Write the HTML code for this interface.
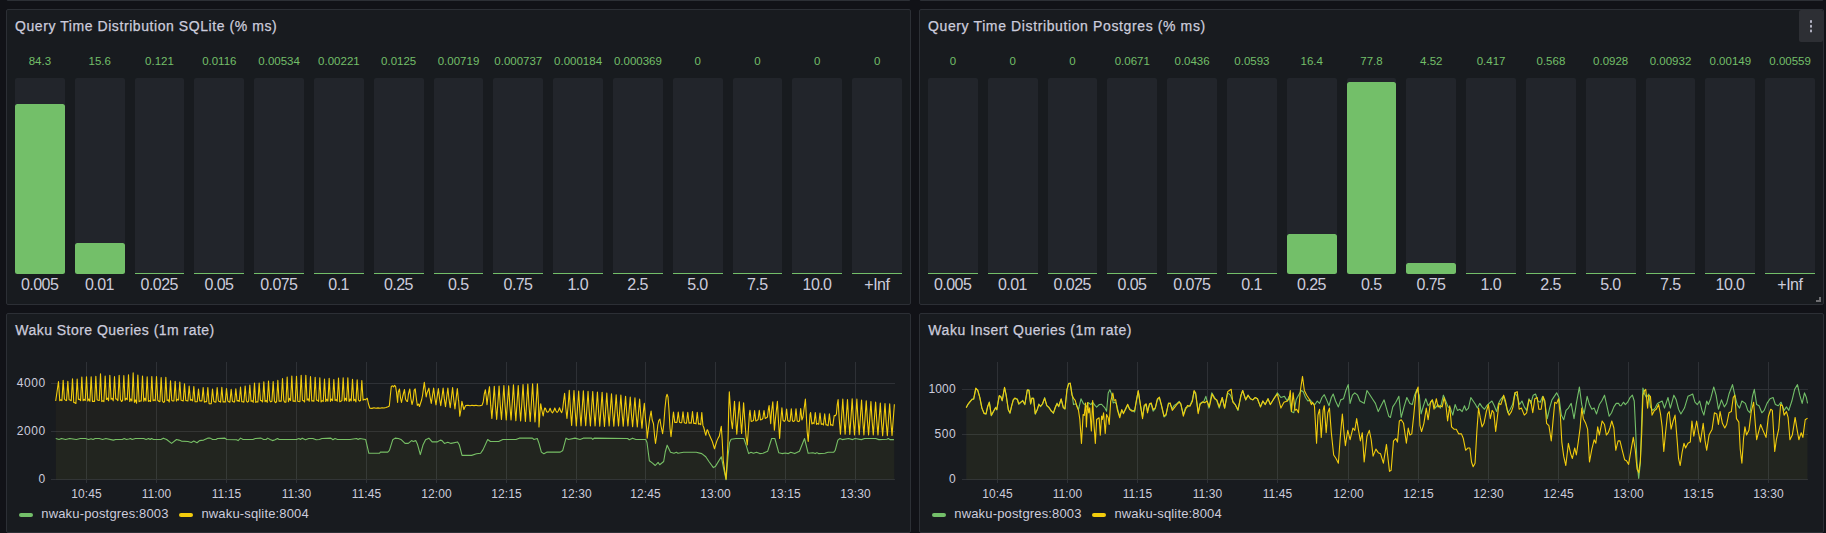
<!DOCTYPE html>
<html><head><meta charset="utf-8"><title>dashboard</title>
<style>
html,body{margin:0;padding:0;}
body{width:1826px;height:533px;overflow:hidden;background:#111217;position:relative;font-family:"Liberation Sans",sans-serif;color:#ccccdc;}
.p{position:absolute;box-sizing:border-box;background:#181b1f;border:1px solid #2c2f35;border-radius:2px;}
.t{position:absolute;font-size:14px;line-height:20px;white-space:nowrap;letter-spacing:.57px;color:#ccccdc;-webkit-text-stroke:.25px #ccccdc;}
.bv{position:absolute;top:53px;height:16px;line-height:16px;font-size:11.5px;text-align:center;color:#73bf69;white-space:nowrap;}
.bb{position:absolute;top:78px;height:196px;background:#22252b;border-radius:2px;}
.bf{position:absolute;background:#73bf69;border-radius:2.5px;}
.bz{position:absolute;top:272.5px;height:1.5px;background:#73bf69;}
.bl{position:absolute;top:275px;height:20px;line-height:20px;font-size:16px;letter-spacing:-.55px;text-indent:-.55px;text-align:center;color:#ccccdc;white-space:nowrap;}
.xt{position:absolute;top:486px;width:61px;height:16px;line-height:16px;font-size:12px;text-align:center;white-space:nowrap;letter-spacing:.1px;}
.yt{position:absolute;height:18px;line-height:18px;font-size:12px;text-align:right;white-space:nowrap;}
.lm{position:absolute;top:513px;width:14px;height:4px;border-radius:2px;}
.lt{position:absolute;top:505px;height:18px;line-height:18px;font-size:13px;letter-spacing:.16px;white-space:nowrap;}
svg{position:absolute;left:0;top:0;}
</style></head><body>
<div class="p" style="left:6px;top:-30px;width:905px;height:31px"></div>
<div class="p" style="left:919px;top:-30px;width:905px;height:31px"></div>
<div class="p" style="left:6px;top:9px;width:905px;height:296px"></div>
<div class="p" style="left:919px;top:9px;width:905px;height:296px"></div>
<div class="p" style="left:6px;top:313px;width:905px;height:220px"></div>
<div class="p" style="left:919px;top:313px;width:905px;height:220px"></div>
<div class="t" style="left:15px;top:16px">Query Time Distribution SQLite (% ms)</div>
<div class="t" style="left:928px;top:16px;letter-spacing:.62px">Query Time Distribution Postgres (% ms)</div>
<div class="t" style="left:15.3px;top:320px;letter-spacing:.47px">Waku Store Queries (1m rate)</div>
<div class="t" style="left:928.3px;top:320px;letter-spacing:.55px">Waku Insert Queries (1m rate)</div>
<div style="position:absolute;left:1799px;top:10px;width:24px;height:32px;background:#2d2f34;border-radius:2px"></div>
<div style="position:absolute;left:1809.8px;top:20px;width:2.5px;height:2.7px;background:#b4b4c4;border-radius:.8px;box-shadow:0 4.7px 0 #b4b4c4,0 9.4px 0 #b4b4c4"></div>
<div class="bv" style="left:5px;width:69.8px">84.3</div>
<div class="bb" style="left:15px;width:49.8px"></div>
<div class="bf" style="left:15px;width:49.8px;top:104px;height:170px"></div>
<div class="bl" style="left:5px;width:69.8px">0.005</div>
<div class="bv" style="left:64.8px;width:69.8px">15.6</div>
<div class="bb" style="left:74.8px;width:49.8px"></div>
<div class="bf" style="left:74.8px;width:49.8px;top:243px;height:31px"></div>
<div class="bl" style="left:64.8px;width:69.8px">0.01</div>
<div class="bv" style="left:124.6px;width:69.8px">0.121</div>
<div class="bb" style="left:134.6px;width:49.8px"></div>
<div class="bz" style="left:134.6px;width:49.8px"></div>
<div class="bl" style="left:124.6px;width:69.8px">0.025</div>
<div class="bv" style="left:184.4px;width:69.8px">0.0116</div>
<div class="bb" style="left:194.4px;width:49.8px"></div>
<div class="bz" style="left:194.4px;width:49.8px"></div>
<div class="bl" style="left:184.4px;width:69.8px">0.05</div>
<div class="bv" style="left:244.2px;width:69.8px">0.00534</div>
<div class="bb" style="left:254.2px;width:49.8px"></div>
<div class="bz" style="left:254.2px;width:49.8px"></div>
<div class="bl" style="left:244.2px;width:69.8px">0.075</div>
<div class="bv" style="left:304px;width:69.8px">0.00221</div>
<div class="bb" style="left:314px;width:49.8px"></div>
<div class="bz" style="left:314px;width:49.8px"></div>
<div class="bl" style="left:304px;width:69.8px">0.1</div>
<div class="bv" style="left:363.8px;width:69.8px">0.0125</div>
<div class="bb" style="left:373.8px;width:49.8px"></div>
<div class="bz" style="left:373.8px;width:49.8px"></div>
<div class="bl" style="left:363.8px;width:69.8px">0.25</div>
<div class="bv" style="left:423.6px;width:69.8px">0.00719</div>
<div class="bb" style="left:433.6px;width:49.8px"></div>
<div class="bz" style="left:433.6px;width:49.8px"></div>
<div class="bl" style="left:423.6px;width:69.8px">0.5</div>
<div class="bv" style="left:483.4px;width:69.8px">0.000737</div>
<div class="bb" style="left:493.4px;width:49.8px"></div>
<div class="bz" style="left:493.4px;width:49.8px"></div>
<div class="bl" style="left:483.4px;width:69.8px">0.75</div>
<div class="bv" style="left:543.2px;width:69.8px">0.000184</div>
<div class="bb" style="left:553.2px;width:49.8px"></div>
<div class="bz" style="left:553.2px;width:49.8px"></div>
<div class="bl" style="left:543.2px;width:69.8px">1.0</div>
<div class="bv" style="left:603px;width:69.8px">0.000369</div>
<div class="bb" style="left:613px;width:49.8px"></div>
<div class="bz" style="left:613px;width:49.8px"></div>
<div class="bl" style="left:603px;width:69.8px">2.5</div>
<div class="bv" style="left:662.8px;width:69.8px">0</div>
<div class="bb" style="left:672.8px;width:49.8px"></div>
<div class="bz" style="left:672.8px;width:49.8px"></div>
<div class="bl" style="left:662.8px;width:69.8px">5.0</div>
<div class="bv" style="left:722.6px;width:69.8px">0</div>
<div class="bb" style="left:732.6px;width:49.8px"></div>
<div class="bz" style="left:732.6px;width:49.8px"></div>
<div class="bl" style="left:722.6px;width:69.8px">7.5</div>
<div class="bv" style="left:782.4px;width:69.8px">0</div>
<div class="bb" style="left:792.4px;width:49.8px"></div>
<div class="bz" style="left:792.4px;width:49.8px"></div>
<div class="bl" style="left:782.4px;width:69.8px">10.0</div>
<div class="bv" style="left:842.2px;width:69.8px">0</div>
<div class="bb" style="left:852.2px;width:49.8px"></div>
<div class="bz" style="left:852.2px;width:49.8px"></div>
<div class="bl" style="left:842.2px;width:69.8px">+Inf</div>
<div class="bv" style="left:918px;width:69.8px">0</div>
<div class="bb" style="left:928px;width:49.8px"></div>
<div class="bz" style="left:928px;width:49.8px"></div>
<div class="bl" style="left:918px;width:69.8px">0.005</div>
<div class="bv" style="left:977.8px;width:69.8px">0</div>
<div class="bb" style="left:987.8px;width:49.8px"></div>
<div class="bz" style="left:987.8px;width:49.8px"></div>
<div class="bl" style="left:977.8px;width:69.8px">0.01</div>
<div class="bv" style="left:1037.6px;width:69.8px">0</div>
<div class="bb" style="left:1047.6px;width:49.8px"></div>
<div class="bz" style="left:1047.6px;width:49.8px"></div>
<div class="bl" style="left:1037.6px;width:69.8px">0.025</div>
<div class="bv" style="left:1097.4px;width:69.8px">0.0671</div>
<div class="bb" style="left:1107.4px;width:49.8px"></div>
<div class="bz" style="left:1107.4px;width:49.8px"></div>
<div class="bl" style="left:1097.4px;width:69.8px">0.05</div>
<div class="bv" style="left:1157.2px;width:69.8px">0.0436</div>
<div class="bb" style="left:1167.2px;width:49.8px"></div>
<div class="bz" style="left:1167.2px;width:49.8px"></div>
<div class="bl" style="left:1157.2px;width:69.8px">0.075</div>
<div class="bv" style="left:1217px;width:69.8px">0.0593</div>
<div class="bb" style="left:1227px;width:49.8px"></div>
<div class="bz" style="left:1227px;width:49.8px"></div>
<div class="bl" style="left:1217px;width:69.8px">0.1</div>
<div class="bv" style="left:1276.8px;width:69.8px">16.4</div>
<div class="bb" style="left:1286.8px;width:49.8px"></div>
<div class="bf" style="left:1286.8px;width:49.8px;top:234px;height:40px"></div>
<div class="bl" style="left:1276.8px;width:69.8px">0.25</div>
<div class="bv" style="left:1336.6px;width:69.8px">77.8</div>
<div class="bb" style="left:1346.6px;width:49.8px"></div>
<div class="bf" style="left:1346.6px;width:49.8px;top:82px;height:192px"></div>
<div class="bl" style="left:1336.6px;width:69.8px">0.5</div>
<div class="bv" style="left:1396.4px;width:69.8px">4.52</div>
<div class="bb" style="left:1406.4px;width:49.8px"></div>
<div class="bf" style="left:1406.4px;width:49.8px;top:263px;height:11px"></div>
<div class="bl" style="left:1396.4px;width:69.8px">0.75</div>
<div class="bv" style="left:1456.2px;width:69.8px">0.417</div>
<div class="bb" style="left:1466.2px;width:49.8px"></div>
<div class="bz" style="left:1466.2px;width:49.8px"></div>
<div class="bl" style="left:1456.2px;width:69.8px">1.0</div>
<div class="bv" style="left:1516px;width:69.8px">0.568</div>
<div class="bb" style="left:1526px;width:49.8px"></div>
<div class="bz" style="left:1526px;width:49.8px"></div>
<div class="bl" style="left:1516px;width:69.8px">2.5</div>
<div class="bv" style="left:1575.8px;width:69.8px">0.0928</div>
<div class="bb" style="left:1585.8px;width:49.8px"></div>
<div class="bz" style="left:1585.8px;width:49.8px"></div>
<div class="bl" style="left:1575.8px;width:69.8px">5.0</div>
<div class="bv" style="left:1635.6px;width:69.8px">0.00932</div>
<div class="bb" style="left:1645.6px;width:49.8px"></div>
<div class="bz" style="left:1645.6px;width:49.8px"></div>
<div class="bl" style="left:1635.6px;width:69.8px">7.5</div>
<div class="bv" style="left:1695.4px;width:69.8px">0.00149</div>
<div class="bb" style="left:1705.4px;width:49.8px"></div>
<div class="bz" style="left:1705.4px;width:49.8px"></div>
<div class="bl" style="left:1695.4px;width:69.8px">10.0</div>
<div class="bv" style="left:1755.2px;width:69.8px">0.00559</div>
<div class="bb" style="left:1765.2px;width:49.8px"></div>
<div class="bz" style="left:1765.2px;width:49.8px"></div>
<div class="bl" style="left:1755.2px;width:69.8px">+Inf</div>
<svg width="1826" height="533" viewBox="0 0 1826 533">
<rect x="86" y="362" width="1" height="121" fill="#2e3136"/><rect x="156" y="362" width="1" height="121" fill="#2e3136"/><rect x="226" y="362" width="1" height="121" fill="#2e3136"/><rect x="296" y="362" width="1" height="121" fill="#2e3136"/><rect x="366" y="362" width="1" height="121" fill="#2e3136"/><rect x="436" y="362" width="1" height="121" fill="#2e3136"/><rect x="506" y="362" width="1" height="121" fill="#2e3136"/><rect x="576" y="362" width="1" height="121" fill="#2e3136"/><rect x="645" y="362" width="1" height="121" fill="#2e3136"/><rect x="715" y="362" width="1" height="121" fill="#2e3136"/><rect x="785" y="362" width="1" height="121" fill="#2e3136"/><rect x="855" y="362" width="1" height="121" fill="#2e3136"/><rect x="51" y="383" width="844" height="1" fill="#2e3136"/><rect x="51" y="431" width="844" height="1" fill="#2e3136"/><rect x="51" y="479" width="844" height="1" fill="#2e3136"/><rect x="997" y="362" width="1" height="121" fill="#2e3136"/><rect x="1067" y="362" width="1" height="121" fill="#2e3136"/><rect x="1137" y="362" width="1" height="121" fill="#2e3136"/><rect x="1207" y="362" width="1" height="121" fill="#2e3136"/><rect x="1277" y="362" width="1" height="121" fill="#2e3136"/><rect x="1348" y="362" width="1" height="121" fill="#2e3136"/><rect x="1418" y="362" width="1" height="121" fill="#2e3136"/><rect x="1488" y="362" width="1" height="121" fill="#2e3136"/><rect x="1558" y="362" width="1" height="121" fill="#2e3136"/><rect x="1628" y="362" width="1" height="121" fill="#2e3136"/><rect x="1698" y="362" width="1" height="121" fill="#2e3136"/><rect x="1768" y="362" width="1" height="121" fill="#2e3136"/><rect x="962" y="389" width="846" height="1" fill="#2e3136"/><rect x="962" y="434" width="846" height="1" fill="#2e3136"/><rect x="962" y="479" width="846" height="1" fill="#2e3136"/><path d="M55.75,438.47 L59.04,439.46 L61.5,438.47 L65.61,439.46 L69.71,438.47 L76.29,439.46 L80.39,438.47 L85.32,438.47 L88.61,439.46 L91.07,438.8 L93.04,439.46 L95.18,438.47 L99.29,438.47 L102.57,439.46 L105.86,438.47 L113.25,440.11 L115.71,439.46 L122.29,439.46 L124.26,438.47 L126.39,439.46 L128.86,438.96 L130.5,438.47 L132.14,439.46 L135.43,438.47 L143.64,438.47 L146.11,439.46 L148.57,438.47 L150.21,439.46 L151.53,438.47 L153.5,439.46 L160.89,439.46 L163.36,438.14 L166.64,439.46 L171.57,443.4 L176.5,439.46 L178.96,440.11 L181.43,441.1 L188,441.43 L191.28,442.41 L193.75,441.1 L197.03,442.74 L199.5,440.61 L203.61,440.11 L207.71,438.14 L210.18,438.14 L212.64,439.46 L215.93,439.46 L217.57,438.47 L224.96,438.14 L226.61,439.46 L236.46,439.79 L238.11,440.61 L240.57,438.14 L243.03,439.46 L252.89,439.46 L255.36,438.47 L261.11,438.14 L263.57,439.46 L266.03,439.46 L267.68,438.14 L270.14,439.46 L272.61,440.61 L275.07,439.79 L277.53,438.47 L279.18,439.46 L296.43,439.46 L298.89,438.47 L300.53,439.46 L302.18,438.14 L305.46,439.79 L308.75,438.47 L312.86,438.47 L316.14,439.79 L319.43,439.46 L321.89,438.47 L330.93,438.14 L332.9,439.79 L335.03,438.47 L337.5,439.46 L349.98,439.46 L356.57,438.47 L358.21,439.46 L359.86,438.47 L365.61,439.46 L368.89,453.26 L379.57,453.26 L380.39,452.11 L387.79,452.11 L389.43,450.46 L392.71,439.79 L395.18,438.14 L398.46,438.47 L400.93,439.46 L405.04,443.4 L408.32,443.4 L411.61,440.61 L413.25,441.43 L415.71,440.61 L417.36,443.89 L420.31,454.57 L423.11,444.71 L425.57,439.79 L428.86,438.14 L432.14,441.92 L437.07,441.92 L440.36,440.11 L442,440.61 L444.46,443.4 L447.75,442.25 L451.03,443.4 L457.61,441.92 L459.25,444.71 L462.04,455.39 L471.57,455.39 L476.5,453.75 L480.61,453.26 L483.07,449.64 L487.67,439.46 L490.46,441.43 L498.68,441.43 L502.78,439.46 L515.93,439.46 L519.21,438.14 L532.36,438.14 L534,439.46 L537.28,438.47 L538.93,443.07 L541.39,452.11 L543.86,453.75 L547.14,452.11 L560.28,452.11 L562.75,450.46 L566.03,438.14 L568.5,439.46 L575.07,438.14 L580,439.46 L583.28,438.14 L591.5,438.14 L592.81,439.46 L594.13,438.14 L627.64,438.47 L629.28,439.79 L632.57,438.14 L635.86,439.46 L645.71,439.46 L647,442.47 L649.38,460.73 L652.56,463.11 L655.25,465.5 L658.11,462.32 L659.7,464.7 L663.67,461.53 L665.26,452 L667.17,445.17 L670.5,452.31 L673.99,453.27 L676.38,452.31 L677.96,453.27 L683.52,452.31 L696.23,452.31 L701.78,453.59 L705.76,456.76 L708.93,461.53 L713.38,467.56 L715.28,466.61 L721.32,456.76 L723.22,466.29 L726.08,479.79 L727.99,456.76 L729.58,442.47 L731.16,439.29 L735.93,438.5 L743.87,438.5 L746.25,445.64 L748.63,453.59 L751.01,452.31 L753.4,453.27 L756.57,452.31 L759.75,453.59 L762.93,453.27 L767.69,451.2 L771.66,438.5 L774.84,438.5 L778.81,452.79 L781.98,453.59 L785.16,452.95 L788.33,453.59 L790.72,452.31 L794.69,453.59 L799.45,451.2 L804.53,438.5 L808.18,453.27 L812.95,452.79 L815.33,453.59 L816.92,452.63 L818.51,453.59 L824.86,453.27 L828.04,452.31 L833.59,452.31 L835.18,450.41 L837.88,440.09 L839.95,438.5 L842.33,439.61 L848.68,438.5 L852.65,439.61 L855.03,438.5 L861.38,439.61 L864.56,438.5 L875.68,438.5 L878.85,439.61 L886.79,439.29 L888.38,438.5 L889.97,439.61 L893.94,439.61 L893.94,479.5 L55.75,479.5 Z" fill="#73bf69" fill-opacity="0.035" stroke="none"/><path d="M55.75,438.47 L59.04,439.46 L61.5,438.47 L65.61,439.46 L69.71,438.47 L76.29,439.46 L80.39,438.47 L85.32,438.47 L88.61,439.46 L91.07,438.8 L93.04,439.46 L95.18,438.47 L99.29,438.47 L102.57,439.46 L105.86,438.47 L113.25,440.11 L115.71,439.46 L122.29,439.46 L124.26,438.47 L126.39,439.46 L128.86,438.96 L130.5,438.47 L132.14,439.46 L135.43,438.47 L143.64,438.47 L146.11,439.46 L148.57,438.47 L150.21,439.46 L151.53,438.47 L153.5,439.46 L160.89,439.46 L163.36,438.14 L166.64,439.46 L171.57,443.4 L176.5,439.46 L178.96,440.11 L181.43,441.1 L188,441.43 L191.28,442.41 L193.75,441.1 L197.03,442.74 L199.5,440.61 L203.61,440.11 L207.71,438.14 L210.18,438.14 L212.64,439.46 L215.93,439.46 L217.57,438.47 L224.96,438.14 L226.61,439.46 L236.46,439.79 L238.11,440.61 L240.57,438.14 L243.03,439.46 L252.89,439.46 L255.36,438.47 L261.11,438.14 L263.57,439.46 L266.03,439.46 L267.68,438.14 L270.14,439.46 L272.61,440.61 L275.07,439.79 L277.53,438.47 L279.18,439.46 L296.43,439.46 L298.89,438.47 L300.53,439.46 L302.18,438.14 L305.46,439.79 L308.75,438.47 L312.86,438.47 L316.14,439.79 L319.43,439.46 L321.89,438.47 L330.93,438.14 L332.9,439.79 L335.03,438.47 L337.5,439.46 L349.98,439.46 L356.57,438.47 L358.21,439.46 L359.86,438.47 L365.61,439.46 L368.89,453.26 L379.57,453.26 L380.39,452.11 L387.79,452.11 L389.43,450.46 L392.71,439.79 L395.18,438.14 L398.46,438.47 L400.93,439.46 L405.04,443.4 L408.32,443.4 L411.61,440.61 L413.25,441.43 L415.71,440.61 L417.36,443.89 L420.31,454.57 L423.11,444.71 L425.57,439.79 L428.86,438.14 L432.14,441.92 L437.07,441.92 L440.36,440.11 L442,440.61 L444.46,443.4 L447.75,442.25 L451.03,443.4 L457.61,441.92 L459.25,444.71 L462.04,455.39 L471.57,455.39 L476.5,453.75 L480.61,453.26 L483.07,449.64 L487.67,439.46 L490.46,441.43 L498.68,441.43 L502.78,439.46 L515.93,439.46 L519.21,438.14 L532.36,438.14 L534,439.46 L537.28,438.47 L538.93,443.07 L541.39,452.11 L543.86,453.75 L547.14,452.11 L560.28,452.11 L562.75,450.46 L566.03,438.14 L568.5,439.46 L575.07,438.14 L580,439.46 L583.28,438.14 L591.5,438.14 L592.81,439.46 L594.13,438.14 L627.64,438.47 L629.28,439.79 L632.57,438.14 L635.86,439.46 L645.71,439.46 L647,442.47 L649.38,460.73 L652.56,463.11 L655.25,465.5 L658.11,462.32 L659.7,464.7 L663.67,461.53 L665.26,452 L667.17,445.17 L670.5,452.31 L673.99,453.27 L676.38,452.31 L677.96,453.27 L683.52,452.31 L696.23,452.31 L701.78,453.59 L705.76,456.76 L708.93,461.53 L713.38,467.56 L715.28,466.61 L721.32,456.76 L723.22,466.29 L726.08,479.79 L727.99,456.76 L729.58,442.47 L731.16,439.29 L735.93,438.5 L743.87,438.5 L746.25,445.64 L748.63,453.59 L751.01,452.31 L753.4,453.27 L756.57,452.31 L759.75,453.59 L762.93,453.27 L767.69,451.2 L771.66,438.5 L774.84,438.5 L778.81,452.79 L781.98,453.59 L785.16,452.95 L788.33,453.59 L790.72,452.31 L794.69,453.59 L799.45,451.2 L804.53,438.5 L808.18,453.27 L812.95,452.79 L815.33,453.59 L816.92,452.63 L818.51,453.59 L824.86,453.27 L828.04,452.31 L833.59,452.31 L835.18,450.41 L837.88,440.09 L839.95,438.5 L842.33,439.61 L848.68,438.5 L852.65,439.61 L855.03,438.5 L861.38,439.61 L864.56,438.5 L875.68,438.5 L878.85,439.61 L886.79,439.29 L888.38,438.5 L889.97,439.61 L893.94,439.61" fill="none" stroke="#73bf69" stroke-width="1.1" stroke-linejoin="round"/><path d="M55.7,401 L58.5,381.5 L59.76,400.68 L60.83,399.73 L61.91,400.67 L63.17,380.34 L64.43,399.18 L65.5,400.15 L66.57,400.61 L67.83,381.18 L69.09,399.75 L70.17,400.09 L71.24,400.67 L72.5,378.88 L73.76,402.36 L74.83,402.71 L75.91,403.45 L77.17,379.04 L78.43,399.34 L79.5,399.19 L80.57,400.61 L81.83,377.04 L83.09,400.66 L84.17,399.34 L85.24,400.52 L86.5,376.75 L87.76,400.86 L88.83,399.04 L89.91,401.18 L91.17,376.74 L92.43,401.52 L93.5,401.29 L94.57,401.44 L95.83,376.39 L97.09,399.69 L98.17,400.2 L99.24,400.49 L100.5,373.9 L101.76,401.47 L102.83,400.82 L103.91,401.59 L105.17,375.95 L106.43,399.57 L107.5,398.2 L108.57,400.74 L109.83,375.34 L111.09,399.19 L112.17,398.4 L113.24,400.84 L114.5,376.66 L115.76,399.04 L116.83,399.11 L117.91,400.66 L119.17,375.38 L120.43,399.18 L121.5,401.47 L122.57,400.53 L123.83,375.67 L125.09,400.33 L126.17,398.34 L127.24,399.74 L128.5,374.76 L129.76,401.49 L130.83,398.91 L131.91,401.08 L133.17,372.9 L134.43,402.33 L135.5,399.89 L136.57,403.21 L137.83,375.02 L139.09,401.6 L140.17,400.94 L141.24,401.03 L142.5,376.09 L143.76,401.25 L144.83,398.29 L145.91,400.88 L147.17,376.92 L148.43,401.35 L149.5,400.67 L150.57,401.52 L151.83,376.55 L153.09,400.71 L154.17,399.92 L155.24,400.7 L156.5,376.5 L157.76,400.27 L158.83,401.27 L159.91,401.66 L161.17,377.55 L162.43,401.01 L163.5,402.33 L164.57,401.75 L165.83,377.22 L167.09,400.52 L168.17,399.85 L169.24,401.96 L170.5,380.73 L171.76,400.48 L172.83,400.88 L173.91,401.02 L175.17,381.25 L176.43,401.09 L177.5,399.32 L178.57,400.06 L179.83,381.96 L181.09,400.3 L182.17,400.58 L183.24,401.03 L184.5,383.71 L185.76,400.4 L186.83,400.71 L187.91,401.05 L189.17,385.93 L190.43,400.31 L191.5,399.61 L192.57,400.9 L193.83,386.56 L195.09,401.74 L196.17,401.7 L197.24,401.71 L198.5,389.09 L199.76,401.05 L200.83,400.87 L201.91,400.83 L203.17,387.66 L204.43,402.11 L205.5,401.66 L206.57,401.78 L207.83,387.57 L209.09,403.74 L210.17,403.83 L211.24,403.59 L212.5,388.97 L213.76,401.22 L214.83,402 L215.91,402.12 L217.17,387.57 L218.43,401.05 L219.5,401.53 L220.57,402.12 L221.83,387.34 L223.09,402.06 L224.17,401.73 L225.24,402.09 L226.5,388.59 L227.76,400.87 L228.83,401.82 L229.91,402.12 L231.17,389.19 L232.43,401.36 L233.5,401.88 L234.57,401.93 L235.83,388.77 L237.09,401.06 L238.17,400.5 L239.24,401.53 L240.5,386.99 L241.76,401.68 L242.83,401.71 L243.91,402.13 L245.17,385.95 L246.43,400.94 L247.5,402.16 L248.57,401.38 L249.83,385.14 L251.09,401.33 L252.17,400.69 L253.24,402.31 L254.5,382.98 L255.76,402.36 L256.83,401.87 L257.91,401.91 L259.17,383.12 L260.43,400.5 L261.5,400.66 L262.57,401.91 L263.83,381.85 L265.09,401.75 L266.17,400.46 L267.24,402.31 L268.5,380.97 L269.76,400.61 L270.83,401.85 L271.91,401.35 L273.17,381.5 L274.43,400.88 L275.5,402.6 L276.57,401.82 L277.83,380.42 L279.09,401.19 L280.17,400.96 L281.24,401.09 L282.5,378.58 L283.76,400.35 L284.83,402.18 L285.91,402.11 L287.17,377 L288.43,401.61 L289.5,398.39 L290.57,400.51 L291.83,376.11 L293.09,401.32 L294.17,401 L295.24,401.6 L296.5,376.34 L297.76,401.27 L298.83,401.51 L299.91,401.69 L301.17,375.21 L302.43,400.19 L303.5,400.69 L304.57,401.99 L305.83,375.31 L307.09,400.26 L308.17,398.95 L309.24,401.26 L310.5,376.43 L311.76,400.97 L312.83,400.74 L313.91,401.31 L315.17,377.19 L316.43,400.09 L317.5,400.21 L318.57,401.44 L319.83,377.9 L321.09,401.87 L322.17,400.61 L323.24,401.43 L324.5,379.03 L325.76,401.38 L326.83,399.33 L327.91,401.14 L329.17,378.31 L330.43,401.39 L331.5,399.02 L332.57,400.75 L333.83,379.5 L335.09,400.48 L336.17,399.67 L337.24,401.22 L338.5,378.01 L339.76,401.69 L340.83,401.22 L341.91,400.6 L343.17,377.83 L344.43,400.88 L345.5,398.24 L346.57,400.86 L347.83,377.71 L349.09,401.57 L350.17,399.01 L351.24,400.88 L352.5,379.4 L353.76,400.62 L354.83,399.41 L355.91,401.87 L357.17,379.76 L358.43,399.84 L359.5,401.07 L360.57,400.42 L361.83,380.55 L363.09,400.19 L364.17,399.25 L365.24,399.84 L366.2,399 L367.3,398.3 L368.5,404 L369.8,408.2 L372,408.4 L374,407.8 L376,408.3 L378,407.9 L380,408.2 L382,407.8 L384,408 L386,407.5 L388,406.8 L389.3,406 L390.2,397 L391.3,386.5 L392.5,385.8 L393.6,386.8 L394.5,385.4 L395.6,386.5 L396.6,393 L397.6,402.5 L398.3,392 L399.5,389 L400.5,398 L401.5,402.5 L402.8,396 L404.5,389.5 L405.5,399 L406.5,401 L407.5,401.5 L408.5,394 L409.8,389 L410.8,398 L412,404.5 L413.2,400 L414.2,390 L415.2,388.9 L416.3,398 L417.3,405.5 L418.5,404 L419.5,406.5 L420.6,403 L421.6,400 L422.6,395 L423.5,388 L424.3,382.3 L425.3,390 L426.2,397 L427,393 L428.9,388.18 L430.08,397.05 L431.27,403.48 L432.45,395.83 L433.64,388.11 L434.82,397.8 L436.01,404.82 L437.19,396.46 L438.38,388.63 L439.56,398.52 L440.75,405.69 L441.94,397.16 L443.12,388.09 L444.31,398.89 L445.49,406.72 L446.68,397.4 L447.86,387.99 L449.04,399.45 L450.23,407.76 L451.41,397.87 L452.6,387.59 L453.78,399.92 L454.97,408.84 L456.15,398.22 L457.34,388.58 L458.52,400.68 L458.6,400 L459.8,416.1 L460.9,410 L461.9,401.3 L463,406 L463.9,409.5 L465,407 L465.6,405.6 L468,405.2 L470,405.8 L472,405.3 L474,405.6 L476,405.2 L478,405.8 L480,405.6 L482,405.2 L483.2,402 L484.3,394 L485.4,389.7 L486.3,397 L487,404.6 L488,396 L489.5,386.67 L490.7,405.17 L491.89,418.56 L493.09,402.62 L494.29,386.36 L495.49,405.48 L496.69,419.33 L497.88,402.85 L499.08,386.1 L500.28,405.47 L501.47,419.5 L502.67,402.8 L503.87,385.64 L505.07,405.52 L506.26,419.93 L507.46,402.78 L508.66,385.89 L509.86,405.62 L511.06,419.91 L512.25,402.9 L513.45,384.69 L514.65,405.57 L515.85,420.68 L517.04,402.69 L518.24,385.44 L519.44,405.98 L520.63,420.85 L521.83,403.15 L523.03,384.63 L524.23,405.92 L525.42,421.34 L526.62,402.98 L527.82,384.08 L529.02,405.7 L530.22,421.35 L531.41,402.72 L532.61,383.86 L533.81,405.93 L535,421.92 L536.2,402.89 L537.4,383.78 L538.6,405.83 L539,426.9 L540,412 L540.7,403.7 L541.8,410 L543.2,416 L544,411 L544.8,408 L545.5,408.5 L546.7,411.8 L547.8,412.3 L549,411 L550.1,408.2 L551.3,411.5 L552.4,412.8 L553.6,411.2 L554.8,408 L556,411 L557.1,412.5 L558.3,411 L559.5,407.8 L560.6,411 L561.7,412.6 L562.7,409 L563.6,401 L564.6,393.23 L565.77,407.83 L566.95,418.41 L568.12,405.82 L569.29,390.28 L570.46,410.64 L571.64,425.38 L572.81,407.83 L573.98,390.64 L575.15,411.08 L576.33,425.87 L577.5,408.26 L578.67,391.07 L579.84,411.23 L581.02,425.83 L582.19,408.45 L583.36,390.85 L584.53,411.04 L585.71,425.66 L586.88,408.26 L588.05,391.41 L589.22,411.42 L590.4,425.92 L591.57,408.66 L592.74,391.45 L593.91,411.43 L595.09,425.9 L596.26,408.67 L597.43,392.04 L598.6,411.85 L599.78,426.2 L600.95,409.12 L602.12,392.24 L603.29,412.03 L604.47,426.35 L605.64,409.3 L606.81,393.1 L607.98,412.22 L609.16,426.07 L610.33,409.59 L611.5,393.74 L612.67,412.59 L613.85,426.24 L615.02,409.99 L616.19,394.81 L617.36,412.92 L618.54,426.04 L619.71,410.42 L620.88,395.05 L622.05,413.09 L623.23,426.16 L624.4,410.6 L625.57,396.28 L626.74,413.47 L627.92,425.93 L629.09,411.1 L630.26,397.17 L631.43,414.32 L632.61,426.75 L633.78,411.96 L634.95,397.89 L636.12,414.76 L637.3,426.98 L638.47,412.43 L639.64,399.13 L640.81,415.93 L641.99,428.09 L643.16,413.61 L644.33,403.41 L645.5,418.21 L646.68,428.93 L647.2,438.3 L648.5,428 L649.8,418 L651.1,411 L652.2,420 L653.5,423.8 L654.6,436 L655.5,443.4 L656.6,436 L657.8,425 L658.8,420.5 L659.9,419 L661,426 L662.6,433.6 L663.8,424 L665,408 L666.2,397 L667,394.3 L668,397 L669,410 L670,428 L671,436.6 L672,428 L673,416 L673.5,412.09 L674.78,422.39 L675.88,422.2 L676.97,422.47 L678.25,412.04 L679.53,422.22 L680.62,422.82 L681.72,422.64 L683,411.79 L684.28,422.52 L685.38,423.22 L686.47,423.29 L687.75,412.27 L689.03,423.23 L690.12,422.72 L691.22,423.18 L692.5,411.67 L693.78,423.47 L694.88,423.17 L695.97,423.85 L697.25,412.2 L698.53,424.16 L699.62,423.7 L700.72,424.56 L701.8,412.5 L702.9,425.4 L703.8,427.5 L704.9,432 L705.8,435.3 L707,430 L707.6,429.8 L709,434 L710.5,437.5 L712.1,440.9 L713.4,445 L714.5,448.8 L715.6,445 L716.9,440.9 L718.2,438 L719.3,436.1 L720.3,431 L721.3,426.4 L722.2,440 L723.2,460 L724.6,470 L726.1,479.3 L727,462 L728,440.9 L728.7,410 L729.3,391.9 L730.2,405 L731.2,420 L732.4,428.6 L733.5,415 L734.5,401.2 L735.6,418 L736.8,434.2 L738,418 L739.3,401.8 L740.4,418 L741.6,433.4 L742.6,418 L743.6,402.7 L744.8,420 L746,436 L747.3,444.9 L748.5,428 L749.4,414 L750,410.2 L751.2,421.4 L752.4,421 L753.5,420.5 L754.6,410.5 L755.8,421 L757,420.4 L758.1,419.5 L759.3,410.2 L760.5,420 L761.7,419.5 L762.8,418.5 L764,410.5 L765.2,418.5 L766.4,417.8 L767.5,417 L768.4,409 L769.1,405.5 L770.7,423.8 L771.5,412 L772.8,401.8 L774.4,430.2 L775.5,418 L777.4,401.2 L778.4,420 L779.6,438.4 L780.8,420 L781.9,407.9 L783.1,420.5 L784.3,421.4 L785.4,420 L786.6,409 L787.8,420.5 L789,421.4 L790.1,421 L791.3,408.7 L792.5,421 L793.7,421.4 L794.8,420.5 L796,408.7 L797.2,421 L798.4,421.6 L799.5,421 L800.7,408.5 L801.9,420 L803,417 L804.2,408 L805.4,399.1 L806.3,415 L807.2,432 L808.2,441.4 L809.2,428 L810,415 L810.6,412.46 L811.87,424.06 L812.95,422.73 L814.03,423.55 L815.3,412.6 L816.57,424.35 L817.65,423.49 L818.73,424.26 L820,413.05 L821.27,424.38 L822.35,423.8 L823.43,424.98 L824.7,413.7 L825.97,424.99 L827.05,424.89 L828.13,425.72 L829.4,413.78 L830.67,425.12 L831.75,424.84 L832.83,425.58 L834.2,415.5 L835.4,415.8 L836.4,414 L837.2,405 L838.1,399.5 L839.27,419.69 L840.45,434.32 L841.62,416.91 L842.79,399.17 L843.96,419.43 L845.14,434.11 L846.31,416.64 L847.48,399.61 L848.65,419.89 L849.83,434.57 L851,417.09 L852.17,398.82 L853.34,419.75 L854.52,434.9 L855.69,416.86 L856.86,398.98 L858.03,419.63 L859.21,434.59 L860.38,416.79 L861.55,400.05 L862.72,420.27 L863.9,434.91 L865.07,417.48 L866.24,400.73 L867.41,420.65 L868.59,435.07 L869.76,417.9 L870.93,401.49 L872.1,420.91 L873.28,434.97 L874.45,418.23 L875.62,401.98 L876.79,421.11 L877.97,434.95 L879.14,418.47 L880.31,403.15 L881.48,421.97 L882.66,435.61 L883.83,419.38 L885,403.47 L886.17,422.19 L887.35,435.75 L888.52,419.61 L889.69,403.77 L890.86,422.21 L892.04,435.57 L893.21,419.67 L894.38,404.32 L894.38,479.5 L55.7,479.5 Z" fill="#f2cc0c" fill-opacity="0.03" stroke="none"/><path d="M55.7,401 L58.5,381.5 L59.76,400.68 L60.83,399.73 L61.91,400.67 L63.17,380.34 L64.43,399.18 L65.5,400.15 L66.57,400.61 L67.83,381.18 L69.09,399.75 L70.17,400.09 L71.24,400.67 L72.5,378.88 L73.76,402.36 L74.83,402.71 L75.91,403.45 L77.17,379.04 L78.43,399.34 L79.5,399.19 L80.57,400.61 L81.83,377.04 L83.09,400.66 L84.17,399.34 L85.24,400.52 L86.5,376.75 L87.76,400.86 L88.83,399.04 L89.91,401.18 L91.17,376.74 L92.43,401.52 L93.5,401.29 L94.57,401.44 L95.83,376.39 L97.09,399.69 L98.17,400.2 L99.24,400.49 L100.5,373.9 L101.76,401.47 L102.83,400.82 L103.91,401.59 L105.17,375.95 L106.43,399.57 L107.5,398.2 L108.57,400.74 L109.83,375.34 L111.09,399.19 L112.17,398.4 L113.24,400.84 L114.5,376.66 L115.76,399.04 L116.83,399.11 L117.91,400.66 L119.17,375.38 L120.43,399.18 L121.5,401.47 L122.57,400.53 L123.83,375.67 L125.09,400.33 L126.17,398.34 L127.24,399.74 L128.5,374.76 L129.76,401.49 L130.83,398.91 L131.91,401.08 L133.17,372.9 L134.43,402.33 L135.5,399.89 L136.57,403.21 L137.83,375.02 L139.09,401.6 L140.17,400.94 L141.24,401.03 L142.5,376.09 L143.76,401.25 L144.83,398.29 L145.91,400.88 L147.17,376.92 L148.43,401.35 L149.5,400.67 L150.57,401.52 L151.83,376.55 L153.09,400.71 L154.17,399.92 L155.24,400.7 L156.5,376.5 L157.76,400.27 L158.83,401.27 L159.91,401.66 L161.17,377.55 L162.43,401.01 L163.5,402.33 L164.57,401.75 L165.83,377.22 L167.09,400.52 L168.17,399.85 L169.24,401.96 L170.5,380.73 L171.76,400.48 L172.83,400.88 L173.91,401.02 L175.17,381.25 L176.43,401.09 L177.5,399.32 L178.57,400.06 L179.83,381.96 L181.09,400.3 L182.17,400.58 L183.24,401.03 L184.5,383.71 L185.76,400.4 L186.83,400.71 L187.91,401.05 L189.17,385.93 L190.43,400.31 L191.5,399.61 L192.57,400.9 L193.83,386.56 L195.09,401.74 L196.17,401.7 L197.24,401.71 L198.5,389.09 L199.76,401.05 L200.83,400.87 L201.91,400.83 L203.17,387.66 L204.43,402.11 L205.5,401.66 L206.57,401.78 L207.83,387.57 L209.09,403.74 L210.17,403.83 L211.24,403.59 L212.5,388.97 L213.76,401.22 L214.83,402 L215.91,402.12 L217.17,387.57 L218.43,401.05 L219.5,401.53 L220.57,402.12 L221.83,387.34 L223.09,402.06 L224.17,401.73 L225.24,402.09 L226.5,388.59 L227.76,400.87 L228.83,401.82 L229.91,402.12 L231.17,389.19 L232.43,401.36 L233.5,401.88 L234.57,401.93 L235.83,388.77 L237.09,401.06 L238.17,400.5 L239.24,401.53 L240.5,386.99 L241.76,401.68 L242.83,401.71 L243.91,402.13 L245.17,385.95 L246.43,400.94 L247.5,402.16 L248.57,401.38 L249.83,385.14 L251.09,401.33 L252.17,400.69 L253.24,402.31 L254.5,382.98 L255.76,402.36 L256.83,401.87 L257.91,401.91 L259.17,383.12 L260.43,400.5 L261.5,400.66 L262.57,401.91 L263.83,381.85 L265.09,401.75 L266.17,400.46 L267.24,402.31 L268.5,380.97 L269.76,400.61 L270.83,401.85 L271.91,401.35 L273.17,381.5 L274.43,400.88 L275.5,402.6 L276.57,401.82 L277.83,380.42 L279.09,401.19 L280.17,400.96 L281.24,401.09 L282.5,378.58 L283.76,400.35 L284.83,402.18 L285.91,402.11 L287.17,377 L288.43,401.61 L289.5,398.39 L290.57,400.51 L291.83,376.11 L293.09,401.32 L294.17,401 L295.24,401.6 L296.5,376.34 L297.76,401.27 L298.83,401.51 L299.91,401.69 L301.17,375.21 L302.43,400.19 L303.5,400.69 L304.57,401.99 L305.83,375.31 L307.09,400.26 L308.17,398.95 L309.24,401.26 L310.5,376.43 L311.76,400.97 L312.83,400.74 L313.91,401.31 L315.17,377.19 L316.43,400.09 L317.5,400.21 L318.57,401.44 L319.83,377.9 L321.09,401.87 L322.17,400.61 L323.24,401.43 L324.5,379.03 L325.76,401.38 L326.83,399.33 L327.91,401.14 L329.17,378.31 L330.43,401.39 L331.5,399.02 L332.57,400.75 L333.83,379.5 L335.09,400.48 L336.17,399.67 L337.24,401.22 L338.5,378.01 L339.76,401.69 L340.83,401.22 L341.91,400.6 L343.17,377.83 L344.43,400.88 L345.5,398.24 L346.57,400.86 L347.83,377.71 L349.09,401.57 L350.17,399.01 L351.24,400.88 L352.5,379.4 L353.76,400.62 L354.83,399.41 L355.91,401.87 L357.17,379.76 L358.43,399.84 L359.5,401.07 L360.57,400.42 L361.83,380.55 L363.09,400.19 L364.17,399.25 L365.24,399.84 L366.2,399 L367.3,398.3 L368.5,404 L369.8,408.2 L372,408.4 L374,407.8 L376,408.3 L378,407.9 L380,408.2 L382,407.8 L384,408 L386,407.5 L388,406.8 L389.3,406 L390.2,397 L391.3,386.5 L392.5,385.8 L393.6,386.8 L394.5,385.4 L395.6,386.5 L396.6,393 L397.6,402.5 L398.3,392 L399.5,389 L400.5,398 L401.5,402.5 L402.8,396 L404.5,389.5 L405.5,399 L406.5,401 L407.5,401.5 L408.5,394 L409.8,389 L410.8,398 L412,404.5 L413.2,400 L414.2,390 L415.2,388.9 L416.3,398 L417.3,405.5 L418.5,404 L419.5,406.5 L420.6,403 L421.6,400 L422.6,395 L423.5,388 L424.3,382.3 L425.3,390 L426.2,397 L427,393 L428.9,388.18 L430.08,397.05 L431.27,403.48 L432.45,395.83 L433.64,388.11 L434.82,397.8 L436.01,404.82 L437.19,396.46 L438.38,388.63 L439.56,398.52 L440.75,405.69 L441.94,397.16 L443.12,388.09 L444.31,398.89 L445.49,406.72 L446.68,397.4 L447.86,387.99 L449.04,399.45 L450.23,407.76 L451.41,397.87 L452.6,387.59 L453.78,399.92 L454.97,408.84 L456.15,398.22 L457.34,388.58 L458.52,400.68 L458.6,400 L459.8,416.1 L460.9,410 L461.9,401.3 L463,406 L463.9,409.5 L465,407 L465.6,405.6 L468,405.2 L470,405.8 L472,405.3 L474,405.6 L476,405.2 L478,405.8 L480,405.6 L482,405.2 L483.2,402 L484.3,394 L485.4,389.7 L486.3,397 L487,404.6 L488,396 L489.5,386.67 L490.7,405.17 L491.89,418.56 L493.09,402.62 L494.29,386.36 L495.49,405.48 L496.69,419.33 L497.88,402.85 L499.08,386.1 L500.28,405.47 L501.47,419.5 L502.67,402.8 L503.87,385.64 L505.07,405.52 L506.26,419.93 L507.46,402.78 L508.66,385.89 L509.86,405.62 L511.06,419.91 L512.25,402.9 L513.45,384.69 L514.65,405.57 L515.85,420.68 L517.04,402.69 L518.24,385.44 L519.44,405.98 L520.63,420.85 L521.83,403.15 L523.03,384.63 L524.23,405.92 L525.42,421.34 L526.62,402.98 L527.82,384.08 L529.02,405.7 L530.22,421.35 L531.41,402.72 L532.61,383.86 L533.81,405.93 L535,421.92 L536.2,402.89 L537.4,383.78 L538.6,405.83 L539,426.9 L540,412 L540.7,403.7 L541.8,410 L543.2,416 L544,411 L544.8,408 L545.5,408.5 L546.7,411.8 L547.8,412.3 L549,411 L550.1,408.2 L551.3,411.5 L552.4,412.8 L553.6,411.2 L554.8,408 L556,411 L557.1,412.5 L558.3,411 L559.5,407.8 L560.6,411 L561.7,412.6 L562.7,409 L563.6,401 L564.6,393.23 L565.77,407.83 L566.95,418.41 L568.12,405.82 L569.29,390.28 L570.46,410.64 L571.64,425.38 L572.81,407.83 L573.98,390.64 L575.15,411.08 L576.33,425.87 L577.5,408.26 L578.67,391.07 L579.84,411.23 L581.02,425.83 L582.19,408.45 L583.36,390.85 L584.53,411.04 L585.71,425.66 L586.88,408.26 L588.05,391.41 L589.22,411.42 L590.4,425.92 L591.57,408.66 L592.74,391.45 L593.91,411.43 L595.09,425.9 L596.26,408.67 L597.43,392.04 L598.6,411.85 L599.78,426.2 L600.95,409.12 L602.12,392.24 L603.29,412.03 L604.47,426.35 L605.64,409.3 L606.81,393.1 L607.98,412.22 L609.16,426.07 L610.33,409.59 L611.5,393.74 L612.67,412.59 L613.85,426.24 L615.02,409.99 L616.19,394.81 L617.36,412.92 L618.54,426.04 L619.71,410.42 L620.88,395.05 L622.05,413.09 L623.23,426.16 L624.4,410.6 L625.57,396.28 L626.74,413.47 L627.92,425.93 L629.09,411.1 L630.26,397.17 L631.43,414.32 L632.61,426.75 L633.78,411.96 L634.95,397.89 L636.12,414.76 L637.3,426.98 L638.47,412.43 L639.64,399.13 L640.81,415.93 L641.99,428.09 L643.16,413.61 L644.33,403.41 L645.5,418.21 L646.68,428.93 L647.2,438.3 L648.5,428 L649.8,418 L651.1,411 L652.2,420 L653.5,423.8 L654.6,436 L655.5,443.4 L656.6,436 L657.8,425 L658.8,420.5 L659.9,419 L661,426 L662.6,433.6 L663.8,424 L665,408 L666.2,397 L667,394.3 L668,397 L669,410 L670,428 L671,436.6 L672,428 L673,416 L673.5,412.09 L674.78,422.39 L675.88,422.2 L676.97,422.47 L678.25,412.04 L679.53,422.22 L680.62,422.82 L681.72,422.64 L683,411.79 L684.28,422.52 L685.38,423.22 L686.47,423.29 L687.75,412.27 L689.03,423.23 L690.12,422.72 L691.22,423.18 L692.5,411.67 L693.78,423.47 L694.88,423.17 L695.97,423.85 L697.25,412.2 L698.53,424.16 L699.62,423.7 L700.72,424.56 L701.8,412.5 L702.9,425.4 L703.8,427.5 L704.9,432 L705.8,435.3 L707,430 L707.6,429.8 L709,434 L710.5,437.5 L712.1,440.9 L713.4,445 L714.5,448.8 L715.6,445 L716.9,440.9 L718.2,438 L719.3,436.1 L720.3,431 L721.3,426.4 L722.2,440 L723.2,460 L724.6,470 L726.1,479.3 L727,462 L728,440.9 L728.7,410 L729.3,391.9 L730.2,405 L731.2,420 L732.4,428.6 L733.5,415 L734.5,401.2 L735.6,418 L736.8,434.2 L738,418 L739.3,401.8 L740.4,418 L741.6,433.4 L742.6,418 L743.6,402.7 L744.8,420 L746,436 L747.3,444.9 L748.5,428 L749.4,414 L750,410.2 L751.2,421.4 L752.4,421 L753.5,420.5 L754.6,410.5 L755.8,421 L757,420.4 L758.1,419.5 L759.3,410.2 L760.5,420 L761.7,419.5 L762.8,418.5 L764,410.5 L765.2,418.5 L766.4,417.8 L767.5,417 L768.4,409 L769.1,405.5 L770.7,423.8 L771.5,412 L772.8,401.8 L774.4,430.2 L775.5,418 L777.4,401.2 L778.4,420 L779.6,438.4 L780.8,420 L781.9,407.9 L783.1,420.5 L784.3,421.4 L785.4,420 L786.6,409 L787.8,420.5 L789,421.4 L790.1,421 L791.3,408.7 L792.5,421 L793.7,421.4 L794.8,420.5 L796,408.7 L797.2,421 L798.4,421.6 L799.5,421 L800.7,408.5 L801.9,420 L803,417 L804.2,408 L805.4,399.1 L806.3,415 L807.2,432 L808.2,441.4 L809.2,428 L810,415 L810.6,412.46 L811.87,424.06 L812.95,422.73 L814.03,423.55 L815.3,412.6 L816.57,424.35 L817.65,423.49 L818.73,424.26 L820,413.05 L821.27,424.38 L822.35,423.8 L823.43,424.98 L824.7,413.7 L825.97,424.99 L827.05,424.89 L828.13,425.72 L829.4,413.78 L830.67,425.12 L831.75,424.84 L832.83,425.58 L834.2,415.5 L835.4,415.8 L836.4,414 L837.2,405 L838.1,399.5 L839.27,419.69 L840.45,434.32 L841.62,416.91 L842.79,399.17 L843.96,419.43 L845.14,434.11 L846.31,416.64 L847.48,399.61 L848.65,419.89 L849.83,434.57 L851,417.09 L852.17,398.82 L853.34,419.75 L854.52,434.9 L855.69,416.86 L856.86,398.98 L858.03,419.63 L859.21,434.59 L860.38,416.79 L861.55,400.05 L862.72,420.27 L863.9,434.91 L865.07,417.48 L866.24,400.73 L867.41,420.65 L868.59,435.07 L869.76,417.9 L870.93,401.49 L872.1,420.91 L873.28,434.97 L874.45,418.23 L875.62,401.98 L876.79,421.11 L877.97,434.95 L879.14,418.47 L880.31,403.15 L881.48,421.97 L882.66,435.61 L883.83,419.38 L885,403.47 L886.17,422.19 L887.35,435.75 L888.52,419.61 L889.69,403.77 L890.86,422.21 L892.04,435.57 L893.21,419.67 L894.38,404.32" fill="none" stroke="#f2cc0c" stroke-width="1.1" stroke-linejoin="round"/><path d="M966.23,407.22 L967.88,404.74 L969.53,402.6 L972.01,398.96 L973.66,399.29 L975.8,388.56 L977.78,389.88 L979.77,397.64 L981.91,408.37 L984.06,413 L986.04,414.15 L987.69,406.72 L989.34,401.93 L991.32,415.8 L993.47,411.68 L995.61,407.22 L996.77,410.02 L999.25,395.99 L1000.9,396.49 L1002.22,400.94 L1004.53,387.74 L1006.18,394.84 L1008.33,410.02 L1009.98,413.33 L1011.63,405.57 L1013.28,400.12 L1014.93,398.47 L1017.41,398.96 L1018.73,404.25 L1020.71,402.6 L1022.69,400.28 L1024.84,404.74 L1027.31,390.21 L1028.96,389.88 L1030.62,404.25 L1031.94,398.47 L1033.59,398.14 L1035.24,414.15 L1037.22,410.02 L1038.87,403.92 L1040.52,406.72 L1042.5,404.25 L1044.65,397.64 L1046.8,405.9 L1048.78,407.55 L1051.25,410.52 L1053.4,413.33 L1055.38,407.55 L1057.03,403.09 L1058.68,406.72 L1061.16,399.29 L1063.31,407.22 L1064.96,409.2 L1066.94,390.21 L1068.59,383.28 L1070.24,383.61 L1071.89,393.02 L1073.54,404.58 L1076.02,403.75 L1078.49,409.53 L1080.97,398.8 L1083.45,403.75 L1085.1,404.58 L1086.75,407.05 L1088.4,402.6 L1090.88,404.58 L1092.53,402.1 L1095,405.4 L1096.66,407.05 L1099.13,404.58 L1101.61,404.25 L1103.26,406.23 L1104.91,407.88 L1106.56,411.18 L1108.21,393.02 L1109.86,389.72 L1111.51,393.85 L1113.16,402.93 L1114.82,402.1 L1116.47,403.75 L1118.12,411.18 L1119.77,416.13 L1121.75,410.35 L1123.4,412.83 L1125.55,409.53 L1127.69,404.91 L1129.67,408.7 L1132.15,410.35 L1134.63,412.01 L1136.61,398.8 L1138.26,391.37 L1140.41,405.4 L1142.55,416.96 L1144.2,407.05 L1146.18,404.58 L1147.51,411.18 L1149.49,404.58 L1151.14,403.75 L1153.12,411.18 L1155.26,408.7 L1157.41,399.62 L1159.39,397.97 L1161.37,405.4 L1164.02,416.96 L1166,415.31 L1168.47,402.93 L1170.12,403.75 L1172.27,408.7 L1174.25,405.4 L1176.73,403.75 L1179.2,401.27 L1180.86,404.58 L1183.33,414.48 L1185.48,407.88 L1187.46,407.05 L1189.94,405.4 L1192.41,399.62 L1194.06,391.37 L1195.71,394.67 L1198.19,412.01 L1199.02,408.7 L1200,403.39 L1203.52,402.21 L1205.86,396.35 L1208.91,408.08 L1211.73,392.83 L1214.54,397.52 L1216.89,401.04 L1219.23,408.08 L1222.28,397.52 L1224.62,408.08 L1227.67,392.83 L1230.49,395.18 L1232.83,401.04 L1235.18,404.56 L1237.99,410.42 L1241.04,395.18 L1242.68,390.49 L1245.73,399.87 L1248.08,395.18 L1250.42,398.7 L1252.77,399.87 L1255.11,397.52 L1257.46,398.7 L1260.51,406.9 L1262.85,401.04 L1265.2,404.56 L1268.01,398.7 L1270.36,404.56 L1273.87,398.7 L1277.39,392.83 L1280.91,397.52 L1284.43,396.35 L1287.24,401.04 L1289.12,396.35 L1291.46,411.59 L1293.81,412.77 L1296.15,399.87 L1298.5,395.18 L1301.31,390.49 L1303.19,391.66 L1305.53,397.52 L1307.88,401.04 L1310.23,399.87 L1312.57,403.39 L1314.92,404.56 L1317.26,401.04 L1319.61,403.39 L1321.95,397.52 L1324.3,394.71 L1326.64,399.87 L1328.99,405.73 L1331.33,397.52 L1333.21,394.01 L1335.55,401.04 L1338.37,406.9 L1340.71,399.87 L1343.53,398.7 L1345.87,390.49 L1348.22,384.62 L1350.09,403.39 L1352.44,395.18 L1354.78,392.83 L1357.6,395.18 L1359.94,401.04 L1362.29,402.21 L1364.17,403.39 L1366.98,390.49 L1369.32,394.01 L1372.37,398.7 L1375.42,403.39 L1378.24,411.59 L1381.05,405.73 L1384.1,399.87 L1386.44,408.08 L1388.79,416.29 L1390.43,417.46 L1392.78,406.9 L1395.83,402.21 L1398.87,396.35 L1401.22,417.46 L1404.03,406.9 L1406.85,397.52 L1409.9,403.39 L1412.24,404.56 L1414.59,395.18 L1416.93,389.32 L1419.28,395.18 L1421.11,413.94 L1423.45,405.73 L1425.8,398.7 L1428.14,405.73 L1430.02,403.39 L1432.36,399.87 L1435.18,408.08 L1437.99,404.56 L1440.34,408.08 L1443.39,395.18 L1445.73,401.04 L1448.08,406.9 L1450.42,408.08 L1452.77,415.11 L1455.11,404.56 L1457.46,410.42 L1459.8,409.25 L1462.15,411.59 L1464.49,405.73 L1466.14,410.42 L1468.48,408.08 L1470.83,397.52 L1473.17,401.04 L1475.52,404.56 L1477.39,408.08 L1479.74,403.39 L1482.08,406.9 L1484.43,409.25 L1486.77,405.73 L1489.12,403.39 L1491.93,401.04 L1494.28,405.73 L1496.62,411.59 L1498.5,403.39 L1500.38,399.87 L1503.19,396.35 L1505.53,403.39 L1507.88,412.77 L1510.23,409.25 L1512.57,404.56 L1514.92,392.83 L1517.26,396.35 L1519.61,404.56 L1521.95,401.04 L1524.3,406.9 L1526.64,410.42 L1528.99,398.7 L1530.86,403.39 L1533.21,395.18 L1535.55,394.01 L1537.9,401.04 L1540.24,402.21 L1542.59,396.35 L1544.93,403.39 L1547.28,418.63 L1549.62,408.08 L1551.97,399.87 L1554.32,396.35 L1556.66,392.83 L1559.01,397.52 L1561.35,415.11 L1563.7,419.8 L1566.04,410.42 L1568.39,408.08 L1571.2,403.39 L1574.02,418.63 L1576.36,403.39 L1579.41,386.97 L1581.75,404.56 L1584.1,413.94 L1587.15,396.35 L1589.49,404.56 L1591.84,409.25 L1594.18,408.08 L1596.53,413.94 L1599.34,404.56 L1601.69,401.04 L1604.5,395.18 L1606.85,405.73 L1609.19,416.29 L1611.54,412.77 L1613.88,406.9 L1616.23,403.39 L1618.57,403.39 L1619.98,405.73 L1621.11,405.73 L1623.45,402.21 L1625.33,404.56 L1627.67,402.21 L1630.02,397.52 L1632.36,395.18 L1634.24,401.04 L1635.65,430.36 L1637.05,463.19 L1638.7,478.43 L1640.34,463.19 L1641.74,418.63 L1642.92,388.14 L1644.56,394.01 L1646.44,397.52 L1648.78,394.01 L1650.42,406.9 L1652.77,410.42 L1655.11,408.08 L1657.46,403.39 L1659.8,402.21 L1662.15,401.04 L1664.49,408.08 L1668.01,397.52 L1670.36,408.08 L1673.87,395.18 L1676.22,399.87 L1678.56,409.25 L1680.91,413.94 L1684.43,408.08 L1687.95,396.35 L1690.29,395.18 L1692.64,394.01 L1694.98,402.21 L1697.33,404.56 L1699.67,401.04 L1702.02,410.42 L1703.89,415.11 L1706.71,401.04 L1708.35,404.56 L1710.69,398.7 L1713.74,386.97 L1716.09,395.18 L1718.43,409.25 L1721.48,399.87 L1724.3,406.9 L1726.64,403.39 L1728.99,394.01 L1732.5,384.62 L1734.85,395.18 L1737.2,404.56 L1739.54,408.08 L1741.89,401.04 L1745.4,403.39 L1747.75,410.42 L1750.09,412.77 L1752.44,396.35 L1754.32,389.32 L1756.66,404.56 L1759.01,405.73 L1761.82,412.77 L1764.17,410.42 L1766.98,403.39 L1770.03,398.7 L1773.08,397.52 L1775.42,404.56 L1778.24,405.73 L1781.05,402.21 L1784.1,410.42 L1786.44,406.9 L1788.79,410.42 L1791.84,401.04 L1794.65,389.32 L1797.47,384.62 L1799.81,395.18 L1802.16,403.39 L1804.5,392.83 L1806.38,397.52 L1807.55,403.39 L1807.55,479.5 L966.23,479.5 Z" fill="#73bf69" fill-opacity="0.035" stroke="none"/><path d="M966.23,407.22 L967.88,404.74 L969.53,402.6 L972.01,398.96 L973.66,399.29 L975.8,388.56 L977.78,389.88 L979.77,397.64 L981.91,408.37 L984.06,413 L986.04,414.15 L987.69,406.72 L989.34,401.93 L991.32,415.8 L993.47,411.68 L995.61,407.22 L996.77,410.02 L999.25,395.99 L1000.9,396.49 L1002.22,400.94 L1004.53,387.74 L1006.18,394.84 L1008.33,410.02 L1009.98,413.33 L1011.63,405.57 L1013.28,400.12 L1014.93,398.47 L1017.41,398.96 L1018.73,404.25 L1020.71,402.6 L1022.69,400.28 L1024.84,404.74 L1027.31,390.21 L1028.96,389.88 L1030.62,404.25 L1031.94,398.47 L1033.59,398.14 L1035.24,414.15 L1037.22,410.02 L1038.87,403.92 L1040.52,406.72 L1042.5,404.25 L1044.65,397.64 L1046.8,405.9 L1048.78,407.55 L1051.25,410.52 L1053.4,413.33 L1055.38,407.55 L1057.03,403.09 L1058.68,406.72 L1061.16,399.29 L1063.31,407.22 L1064.96,409.2 L1066.94,390.21 L1068.59,383.28 L1070.24,383.61 L1071.89,393.02 L1073.54,404.58 L1076.02,403.75 L1078.49,409.53 L1080.97,398.8 L1083.45,403.75 L1085.1,404.58 L1086.75,407.05 L1088.4,402.6 L1090.88,404.58 L1092.53,402.1 L1095,405.4 L1096.66,407.05 L1099.13,404.58 L1101.61,404.25 L1103.26,406.23 L1104.91,407.88 L1106.56,411.18 L1108.21,393.02 L1109.86,389.72 L1111.51,393.85 L1113.16,402.93 L1114.82,402.1 L1116.47,403.75 L1118.12,411.18 L1119.77,416.13 L1121.75,410.35 L1123.4,412.83 L1125.55,409.53 L1127.69,404.91 L1129.67,408.7 L1132.15,410.35 L1134.63,412.01 L1136.61,398.8 L1138.26,391.37 L1140.41,405.4 L1142.55,416.96 L1144.2,407.05 L1146.18,404.58 L1147.51,411.18 L1149.49,404.58 L1151.14,403.75 L1153.12,411.18 L1155.26,408.7 L1157.41,399.62 L1159.39,397.97 L1161.37,405.4 L1164.02,416.96 L1166,415.31 L1168.47,402.93 L1170.12,403.75 L1172.27,408.7 L1174.25,405.4 L1176.73,403.75 L1179.2,401.27 L1180.86,404.58 L1183.33,414.48 L1185.48,407.88 L1187.46,407.05 L1189.94,405.4 L1192.41,399.62 L1194.06,391.37 L1195.71,394.67 L1198.19,412.01 L1199.02,408.7 L1200,403.39 L1203.52,402.21 L1205.86,396.35 L1208.91,408.08 L1211.73,392.83 L1214.54,397.52 L1216.89,401.04 L1219.23,408.08 L1222.28,397.52 L1224.62,408.08 L1227.67,392.83 L1230.49,395.18 L1232.83,401.04 L1235.18,404.56 L1237.99,410.42 L1241.04,395.18 L1242.68,390.49 L1245.73,399.87 L1248.08,395.18 L1250.42,398.7 L1252.77,399.87 L1255.11,397.52 L1257.46,398.7 L1260.51,406.9 L1262.85,401.04 L1265.2,404.56 L1268.01,398.7 L1270.36,404.56 L1273.87,398.7 L1277.39,392.83 L1280.91,397.52 L1284.43,396.35 L1287.24,401.04 L1289.12,396.35 L1291.46,411.59 L1293.81,412.77 L1296.15,399.87 L1298.5,395.18 L1301.31,390.49 L1303.19,391.66 L1305.53,397.52 L1307.88,401.04 L1310.23,399.87 L1312.57,403.39 L1314.92,404.56 L1317.26,401.04 L1319.61,403.39 L1321.95,397.52 L1324.3,394.71 L1326.64,399.87 L1328.99,405.73 L1331.33,397.52 L1333.21,394.01 L1335.55,401.04 L1338.37,406.9 L1340.71,399.87 L1343.53,398.7 L1345.87,390.49 L1348.22,384.62 L1350.09,403.39 L1352.44,395.18 L1354.78,392.83 L1357.6,395.18 L1359.94,401.04 L1362.29,402.21 L1364.17,403.39 L1366.98,390.49 L1369.32,394.01 L1372.37,398.7 L1375.42,403.39 L1378.24,411.59 L1381.05,405.73 L1384.1,399.87 L1386.44,408.08 L1388.79,416.29 L1390.43,417.46 L1392.78,406.9 L1395.83,402.21 L1398.87,396.35 L1401.22,417.46 L1404.03,406.9 L1406.85,397.52 L1409.9,403.39 L1412.24,404.56 L1414.59,395.18 L1416.93,389.32 L1419.28,395.18 L1421.11,413.94 L1423.45,405.73 L1425.8,398.7 L1428.14,405.73 L1430.02,403.39 L1432.36,399.87 L1435.18,408.08 L1437.99,404.56 L1440.34,408.08 L1443.39,395.18 L1445.73,401.04 L1448.08,406.9 L1450.42,408.08 L1452.77,415.11 L1455.11,404.56 L1457.46,410.42 L1459.8,409.25 L1462.15,411.59 L1464.49,405.73 L1466.14,410.42 L1468.48,408.08 L1470.83,397.52 L1473.17,401.04 L1475.52,404.56 L1477.39,408.08 L1479.74,403.39 L1482.08,406.9 L1484.43,409.25 L1486.77,405.73 L1489.12,403.39 L1491.93,401.04 L1494.28,405.73 L1496.62,411.59 L1498.5,403.39 L1500.38,399.87 L1503.19,396.35 L1505.53,403.39 L1507.88,412.77 L1510.23,409.25 L1512.57,404.56 L1514.92,392.83 L1517.26,396.35 L1519.61,404.56 L1521.95,401.04 L1524.3,406.9 L1526.64,410.42 L1528.99,398.7 L1530.86,403.39 L1533.21,395.18 L1535.55,394.01 L1537.9,401.04 L1540.24,402.21 L1542.59,396.35 L1544.93,403.39 L1547.28,418.63 L1549.62,408.08 L1551.97,399.87 L1554.32,396.35 L1556.66,392.83 L1559.01,397.52 L1561.35,415.11 L1563.7,419.8 L1566.04,410.42 L1568.39,408.08 L1571.2,403.39 L1574.02,418.63 L1576.36,403.39 L1579.41,386.97 L1581.75,404.56 L1584.1,413.94 L1587.15,396.35 L1589.49,404.56 L1591.84,409.25 L1594.18,408.08 L1596.53,413.94 L1599.34,404.56 L1601.69,401.04 L1604.5,395.18 L1606.85,405.73 L1609.19,416.29 L1611.54,412.77 L1613.88,406.9 L1616.23,403.39 L1618.57,403.39 L1619.98,405.73 L1621.11,405.73 L1623.45,402.21 L1625.33,404.56 L1627.67,402.21 L1630.02,397.52 L1632.36,395.18 L1634.24,401.04 L1635.65,430.36 L1637.05,463.19 L1638.7,478.43 L1640.34,463.19 L1641.74,418.63 L1642.92,388.14 L1644.56,394.01 L1646.44,397.52 L1648.78,394.01 L1650.42,406.9 L1652.77,410.42 L1655.11,408.08 L1657.46,403.39 L1659.8,402.21 L1662.15,401.04 L1664.49,408.08 L1668.01,397.52 L1670.36,408.08 L1673.87,395.18 L1676.22,399.87 L1678.56,409.25 L1680.91,413.94 L1684.43,408.08 L1687.95,396.35 L1690.29,395.18 L1692.64,394.01 L1694.98,402.21 L1697.33,404.56 L1699.67,401.04 L1702.02,410.42 L1703.89,415.11 L1706.71,401.04 L1708.35,404.56 L1710.69,398.7 L1713.74,386.97 L1716.09,395.18 L1718.43,409.25 L1721.48,399.87 L1724.3,406.9 L1726.64,403.39 L1728.99,394.01 L1732.5,384.62 L1734.85,395.18 L1737.2,404.56 L1739.54,408.08 L1741.89,401.04 L1745.4,403.39 L1747.75,410.42 L1750.09,412.77 L1752.44,396.35 L1754.32,389.32 L1756.66,404.56 L1759.01,405.73 L1761.82,412.77 L1764.17,410.42 L1766.98,403.39 L1770.03,398.7 L1773.08,397.52 L1775.42,404.56 L1778.24,405.73 L1781.05,402.21 L1784.1,410.42 L1786.44,406.9 L1788.79,410.42 L1791.84,401.04 L1794.65,389.32 L1797.47,384.62 L1799.81,395.18 L1802.16,403.39 L1804.5,392.83 L1806.38,397.52 L1807.55,403.39" fill="none" stroke="#73bf69" stroke-width="1.1" stroke-linejoin="round"/><path d="M966.23,407.88 L967.88,404.25 L969.53,402.1 L972.01,399.62 L973.66,398.8 L975.8,388.07 L977.78,390.54 L979.77,397.15 L981.91,407.88 L984.06,413.66 L986.04,413.66 L987.69,406.23 L989.34,402.6 L991.32,415.31 L993.47,411.18 L995.61,407.88 L996.77,409.53 L999.25,395.5 L1000.9,397.15 L1002.22,400.45 L1004.53,387.24 L1006.18,395.5 L1008.33,409.53 L1009.98,412.83 L1011.63,406.23 L1013.28,399.62 L1014.93,397.97 L1017.41,399.62 L1018.73,403.75 L1020.71,402.1 L1022.69,400.94 L1024.84,404.25 L1027.31,389.72 L1028.96,390.54 L1030.62,403.75 L1031.94,397.97 L1033.59,398.8 L1035.24,413.66 L1037.22,409.53 L1038.87,404.58 L1040.52,406.23 L1042.5,403.75 L1044.65,398.3 L1046.8,405.4 L1048.78,407.05 L1051.25,411.18 L1053.4,412.83 L1055.38,407.05 L1057.03,403.75 L1058.68,406.23 L1061.16,398.8 L1063.31,407.88 L1064.96,408.7 L1066.94,389.72 L1068.59,383.94 L1070.24,383.11 L1071.89,394.67 L1073.54,398.3 L1075.19,400.45 L1076.84,406.23 L1078.49,410.35 L1079.82,419.44 L1081.47,443.37 L1083.12,414.48 L1084.27,415.31 L1085.59,402.93 L1086.42,426.86 L1087.57,402.6 L1088.73,412.83 L1089.72,407.88 L1091.37,430.99 L1092.69,400.45 L1093.85,422.74 L1095.33,443.37 L1096.66,419.44 L1099.13,417.78 L1100.29,435.12 L1101.61,416.13 L1102.43,419.44 L1103.59,412.83 L1105.24,433.47 L1106.56,414.48 L1108.21,417.78 L1109.2,424.39 L1110.69,401.27 L1112.83,393.02 L1113.99,400.45 L1115.64,399.62 L1117.29,409.53 L1119.77,417.78 L1121.75,409.53 L1123.4,413.66 L1125.55,408.7 L1127.69,404.25 L1129.67,409.53 L1132.15,411.18 L1134.63,410.35 L1136.61,399.62 L1138.26,390.54 L1140.41,404.58 L1142.55,418.61 L1144.2,405.4 L1146.18,403.75 L1147.51,412.83 L1149.49,403.75 L1151.14,402.93 L1153.12,409.53 L1155.26,407.88 L1157.41,398.8 L1159.39,397.15 L1161.37,404.58 L1164.02,416.13 L1166,414.48 L1168.47,403.75 L1170.12,402.93 L1172.27,410.35 L1174.25,407.88 L1176.73,404.58 L1179.2,402.1 L1180.86,403.75 L1183.33,416.13 L1185.48,409.53 L1187.46,405.4 L1189.94,406.23 L1192.41,401.27 L1194.06,390.54 L1195.71,393.02 L1198.19,413.66 L1199.02,409.53 L1200,404.56 L1202.35,401.74 L1204.69,402.68 L1207.04,401.04 L1209.38,406.9 L1212.2,394.01 L1214.54,398.7 L1216.89,399.87 L1219.23,406.9 L1222.28,397.52 L1224.62,408.08 L1227.67,391.66 L1229.32,390.49 L1231.19,389.32 L1232.83,402.21 L1235.18,404.56 L1237.99,409.72 L1241.04,395.18 L1242.68,390.49 L1245.73,399.87 L1248.08,395.18 L1250.42,398.7 L1252.77,399.87 L1255.11,397.52 L1257.46,398.7 L1260.51,406.9 L1262.85,401.04 L1265.2,404.56 L1268.01,398.7 L1270.36,404.56 L1273.87,398.7 L1277.39,394.01 L1280.91,408.08 L1283.96,402.21 L1287.24,401.04 L1289.12,398.7 L1290.29,390.49 L1291.46,411.59 L1293.11,392.83 L1294.98,410.42 L1296.62,409.25 L1298.5,412.77 L1300.38,390.49 L1302.49,376.42 L1304.36,390.49 L1306.71,395.18 L1309.05,398.7 L1311.4,404.56 L1312.57,402.21 L1314.45,405.73 L1316.56,443.26 L1317.96,415.11 L1319.61,409.25 L1321.25,437.39 L1323.12,410.42 L1324.3,405.73 L1326.17,432.7 L1327.81,412.77 L1329.46,408.08 L1331.33,432.7 L1333.68,454.98 L1336.02,458.5 L1338.37,463.19 L1340.24,437.39 L1342.35,413.94 L1344.23,435.05 L1345.4,445.6 L1347.75,430.36 L1350.09,439.74 L1352.91,428.01 L1354.78,430.36 L1356.66,418.63 L1358.54,430.36 L1360.41,440.91 L1362.29,432.7 L1364.17,462.02 L1366.98,436.22 L1369.32,430.36 L1371.2,439.74 L1373.08,456.15 L1375.89,449.12 L1378.24,452.64 L1380.58,453.81 L1383.4,463.19 L1386.44,444.43 L1389.49,471.4 L1391.14,470.23 L1393.48,440.91 L1395.83,438.56 L1397.47,442.08 L1399.34,420.98 L1401.22,419.8 L1403.56,423.32 L1406.38,443.26 L1408.26,428.01 L1409.9,435.05 L1411.77,433.87 L1413.88,413.94 L1415.76,394.01 L1418.11,386.97 L1419.98,425.67 L1421.58,431.53 L1423.92,423.32 L1426.27,408.08 L1428.14,419.8 L1430.49,402.21 L1432.36,399.87 L1434.01,409.25 L1436.35,398.7 L1437.99,406.9 L1440.34,405.73 L1442.21,406.9 L1444.09,397.52 L1445.97,405.73 L1447.61,420.98 L1449.72,405.73 L1451.59,426.84 L1453.94,429.18 L1456.29,429.18 L1458.63,433.87 L1461.44,433.87 L1463.32,438.56 L1465.67,450.29 L1468.01,447.95 L1469.89,447.95 L1471.53,462.02 L1473.17,466.71 L1475.05,463.19 L1476.92,430.36 L1478.56,408.08 L1480.21,417.46 L1482.08,426.84 L1483.96,423.32 L1486.3,411.59 L1488.41,404.56 L1490.29,418.63 L1492.17,410.42 L1493.81,412.77 L1495.68,431.53 L1497.33,417.46 L1498.97,403.39 L1500.84,404.56 L1503.66,395.18 L1505.53,401.04 L1507.41,410.42 L1509.05,415.11 L1511.4,411.59 L1513.04,406.9 L1514.92,392.83 L1517.26,391.66 L1519.14,409.25 L1521.48,408.08 L1524.3,415.11 L1526.64,412.77 L1528.99,399.87 L1530.86,401.04 L1532.74,412.77 L1534.85,398.7 L1537.2,397.52 L1538.84,409.25 L1541.18,409.25 L1543.06,396.35 L1544.93,401.04 L1546.58,423.32 L1548.92,425.67 L1551.27,440.91 L1552.91,422.15 L1554.78,402.21 L1556.66,403.39 L1558.54,398.7 L1560.41,416.29 L1561.82,442.08 L1563.7,456.15 L1565.81,465.53 L1568.39,443.26 L1570.73,453.81 L1572.37,458.5 L1574.72,447.95 L1576.36,454.98 L1578.24,442.08 L1580.11,428.01 L1581.75,408.08 L1583.4,418.63 L1585.74,423.32 L1587.62,429.18 L1589.49,462.02 L1591.84,449.12 L1594.18,439.74 L1595.83,443.26 L1597.7,426.84 L1599.34,435.05 L1602.16,420.98 L1604.5,424.49 L1606.38,435.05 L1608.26,432.7 L1609.9,428.01 L1611.77,420.98 L1613.88,428.01 L1615.76,450.29 L1618.11,440.91 L1619.98,440.91 L1622.28,450.29 L1624.62,459.67 L1626.5,460.84 L1628.61,464.36 L1630.96,450.29 L1633.3,437.39 L1635.18,449.12 L1637.05,469.05 L1638.7,472.57 L1640.34,460.84 L1641.74,432.7 L1642.92,395.18 L1644.56,390.49 L1645.73,389.32 L1647.61,408.08 L1648.78,395.18 L1650.42,396.35 L1652.06,415.11 L1654.41,410.42 L1656.29,409.25 L1658.63,404.56 L1660.51,413.94 L1662.15,426.84 L1663.79,451.46 L1665.67,431.53 L1667.54,413.94 L1669.18,411.59 L1671.06,429.18 L1673.17,420.98 L1675.05,415.11 L1676.92,437.39 L1678.56,458.5 L1680.21,465.53 L1682.08,452.64 L1683.96,443.26 L1685.6,447.95 L1687.95,443.26 L1690.29,442.08 L1691.93,420.98 L1693.81,436.22 L1696.62,420.98 L1698.5,432.7 L1700.38,442.08 L1703.19,423.32 L1705.07,440.91 L1706.71,450.29 L1709.05,435.05 L1712.1,429.18 L1714.45,412.77 L1716.79,413.94 L1718.43,424.49 L1720.08,411.59 L1722.42,423.32 L1724.77,428.01 L1726.64,424.49 L1728.99,412.77 L1731.33,411.59 L1733.21,397.52 L1734.85,395.18 L1736.49,418.63 L1738.84,422.15 L1740.24,449.12 L1741.89,463.19 L1743.53,438.56 L1744.93,426.84 L1746.58,435.05 L1748.92,430.36 L1751.27,411.59 L1753.61,402.21 L1755.25,423.32 L1756.66,439.74 L1759.01,430.36 L1760.65,424.49 L1762.99,430.36 L1766.04,437.39 L1768.39,416.29 L1770.73,409.25 L1772.37,410.42 L1774.72,451.46 L1776.36,439.74 L1778.71,429.18 L1780.58,404.56 L1782.46,405.73 L1784.1,415.11 L1786.44,411.59 L1788.09,417.46 L1789.96,439.74 L1792.31,435.05 L1795.12,417.46 L1797,429.18 L1798.87,439.74 L1801.22,432.7 L1802.86,437.39 L1805.21,419.8 L1807.55,418.16 L1807.55,479.5 L966.23,479.5 Z" fill="#f2cc0c" fill-opacity="0.03" stroke="none"/><path d="M966.23,407.88 L967.88,404.25 L969.53,402.1 L972.01,399.62 L973.66,398.8 L975.8,388.07 L977.78,390.54 L979.77,397.15 L981.91,407.88 L984.06,413.66 L986.04,413.66 L987.69,406.23 L989.34,402.6 L991.32,415.31 L993.47,411.18 L995.61,407.88 L996.77,409.53 L999.25,395.5 L1000.9,397.15 L1002.22,400.45 L1004.53,387.24 L1006.18,395.5 L1008.33,409.53 L1009.98,412.83 L1011.63,406.23 L1013.28,399.62 L1014.93,397.97 L1017.41,399.62 L1018.73,403.75 L1020.71,402.1 L1022.69,400.94 L1024.84,404.25 L1027.31,389.72 L1028.96,390.54 L1030.62,403.75 L1031.94,397.97 L1033.59,398.8 L1035.24,413.66 L1037.22,409.53 L1038.87,404.58 L1040.52,406.23 L1042.5,403.75 L1044.65,398.3 L1046.8,405.4 L1048.78,407.05 L1051.25,411.18 L1053.4,412.83 L1055.38,407.05 L1057.03,403.75 L1058.68,406.23 L1061.16,398.8 L1063.31,407.88 L1064.96,408.7 L1066.94,389.72 L1068.59,383.94 L1070.24,383.11 L1071.89,394.67 L1073.54,398.3 L1075.19,400.45 L1076.84,406.23 L1078.49,410.35 L1079.82,419.44 L1081.47,443.37 L1083.12,414.48 L1084.27,415.31 L1085.59,402.93 L1086.42,426.86 L1087.57,402.6 L1088.73,412.83 L1089.72,407.88 L1091.37,430.99 L1092.69,400.45 L1093.85,422.74 L1095.33,443.37 L1096.66,419.44 L1099.13,417.78 L1100.29,435.12 L1101.61,416.13 L1102.43,419.44 L1103.59,412.83 L1105.24,433.47 L1106.56,414.48 L1108.21,417.78 L1109.2,424.39 L1110.69,401.27 L1112.83,393.02 L1113.99,400.45 L1115.64,399.62 L1117.29,409.53 L1119.77,417.78 L1121.75,409.53 L1123.4,413.66 L1125.55,408.7 L1127.69,404.25 L1129.67,409.53 L1132.15,411.18 L1134.63,410.35 L1136.61,399.62 L1138.26,390.54 L1140.41,404.58 L1142.55,418.61 L1144.2,405.4 L1146.18,403.75 L1147.51,412.83 L1149.49,403.75 L1151.14,402.93 L1153.12,409.53 L1155.26,407.88 L1157.41,398.8 L1159.39,397.15 L1161.37,404.58 L1164.02,416.13 L1166,414.48 L1168.47,403.75 L1170.12,402.93 L1172.27,410.35 L1174.25,407.88 L1176.73,404.58 L1179.2,402.1 L1180.86,403.75 L1183.33,416.13 L1185.48,409.53 L1187.46,405.4 L1189.94,406.23 L1192.41,401.27 L1194.06,390.54 L1195.71,393.02 L1198.19,413.66 L1199.02,409.53 L1200,404.56 L1202.35,401.74 L1204.69,402.68 L1207.04,401.04 L1209.38,406.9 L1212.2,394.01 L1214.54,398.7 L1216.89,399.87 L1219.23,406.9 L1222.28,397.52 L1224.62,408.08 L1227.67,391.66 L1229.32,390.49 L1231.19,389.32 L1232.83,402.21 L1235.18,404.56 L1237.99,409.72 L1241.04,395.18 L1242.68,390.49 L1245.73,399.87 L1248.08,395.18 L1250.42,398.7 L1252.77,399.87 L1255.11,397.52 L1257.46,398.7 L1260.51,406.9 L1262.85,401.04 L1265.2,404.56 L1268.01,398.7 L1270.36,404.56 L1273.87,398.7 L1277.39,394.01 L1280.91,408.08 L1283.96,402.21 L1287.24,401.04 L1289.12,398.7 L1290.29,390.49 L1291.46,411.59 L1293.11,392.83 L1294.98,410.42 L1296.62,409.25 L1298.5,412.77 L1300.38,390.49 L1302.49,376.42 L1304.36,390.49 L1306.71,395.18 L1309.05,398.7 L1311.4,404.56 L1312.57,402.21 L1314.45,405.73 L1316.56,443.26 L1317.96,415.11 L1319.61,409.25 L1321.25,437.39 L1323.12,410.42 L1324.3,405.73 L1326.17,432.7 L1327.81,412.77 L1329.46,408.08 L1331.33,432.7 L1333.68,454.98 L1336.02,458.5 L1338.37,463.19 L1340.24,437.39 L1342.35,413.94 L1344.23,435.05 L1345.4,445.6 L1347.75,430.36 L1350.09,439.74 L1352.91,428.01 L1354.78,430.36 L1356.66,418.63 L1358.54,430.36 L1360.41,440.91 L1362.29,432.7 L1364.17,462.02 L1366.98,436.22 L1369.32,430.36 L1371.2,439.74 L1373.08,456.15 L1375.89,449.12 L1378.24,452.64 L1380.58,453.81 L1383.4,463.19 L1386.44,444.43 L1389.49,471.4 L1391.14,470.23 L1393.48,440.91 L1395.83,438.56 L1397.47,442.08 L1399.34,420.98 L1401.22,419.8 L1403.56,423.32 L1406.38,443.26 L1408.26,428.01 L1409.9,435.05 L1411.77,433.87 L1413.88,413.94 L1415.76,394.01 L1418.11,386.97 L1419.98,425.67 L1421.58,431.53 L1423.92,423.32 L1426.27,408.08 L1428.14,419.8 L1430.49,402.21 L1432.36,399.87 L1434.01,409.25 L1436.35,398.7 L1437.99,406.9 L1440.34,405.73 L1442.21,406.9 L1444.09,397.52 L1445.97,405.73 L1447.61,420.98 L1449.72,405.73 L1451.59,426.84 L1453.94,429.18 L1456.29,429.18 L1458.63,433.87 L1461.44,433.87 L1463.32,438.56 L1465.67,450.29 L1468.01,447.95 L1469.89,447.95 L1471.53,462.02 L1473.17,466.71 L1475.05,463.19 L1476.92,430.36 L1478.56,408.08 L1480.21,417.46 L1482.08,426.84 L1483.96,423.32 L1486.3,411.59 L1488.41,404.56 L1490.29,418.63 L1492.17,410.42 L1493.81,412.77 L1495.68,431.53 L1497.33,417.46 L1498.97,403.39 L1500.84,404.56 L1503.66,395.18 L1505.53,401.04 L1507.41,410.42 L1509.05,415.11 L1511.4,411.59 L1513.04,406.9 L1514.92,392.83 L1517.26,391.66 L1519.14,409.25 L1521.48,408.08 L1524.3,415.11 L1526.64,412.77 L1528.99,399.87 L1530.86,401.04 L1532.74,412.77 L1534.85,398.7 L1537.2,397.52 L1538.84,409.25 L1541.18,409.25 L1543.06,396.35 L1544.93,401.04 L1546.58,423.32 L1548.92,425.67 L1551.27,440.91 L1552.91,422.15 L1554.78,402.21 L1556.66,403.39 L1558.54,398.7 L1560.41,416.29 L1561.82,442.08 L1563.7,456.15 L1565.81,465.53 L1568.39,443.26 L1570.73,453.81 L1572.37,458.5 L1574.72,447.95 L1576.36,454.98 L1578.24,442.08 L1580.11,428.01 L1581.75,408.08 L1583.4,418.63 L1585.74,423.32 L1587.62,429.18 L1589.49,462.02 L1591.84,449.12 L1594.18,439.74 L1595.83,443.26 L1597.7,426.84 L1599.34,435.05 L1602.16,420.98 L1604.5,424.49 L1606.38,435.05 L1608.26,432.7 L1609.9,428.01 L1611.77,420.98 L1613.88,428.01 L1615.76,450.29 L1618.11,440.91 L1619.98,440.91 L1622.28,450.29 L1624.62,459.67 L1626.5,460.84 L1628.61,464.36 L1630.96,450.29 L1633.3,437.39 L1635.18,449.12 L1637.05,469.05 L1638.7,472.57 L1640.34,460.84 L1641.74,432.7 L1642.92,395.18 L1644.56,390.49 L1645.73,389.32 L1647.61,408.08 L1648.78,395.18 L1650.42,396.35 L1652.06,415.11 L1654.41,410.42 L1656.29,409.25 L1658.63,404.56 L1660.51,413.94 L1662.15,426.84 L1663.79,451.46 L1665.67,431.53 L1667.54,413.94 L1669.18,411.59 L1671.06,429.18 L1673.17,420.98 L1675.05,415.11 L1676.92,437.39 L1678.56,458.5 L1680.21,465.53 L1682.08,452.64 L1683.96,443.26 L1685.6,447.95 L1687.95,443.26 L1690.29,442.08 L1691.93,420.98 L1693.81,436.22 L1696.62,420.98 L1698.5,432.7 L1700.38,442.08 L1703.19,423.32 L1705.07,440.91 L1706.71,450.29 L1709.05,435.05 L1712.1,429.18 L1714.45,412.77 L1716.79,413.94 L1718.43,424.49 L1720.08,411.59 L1722.42,423.32 L1724.77,428.01 L1726.64,424.49 L1728.99,412.77 L1731.33,411.59 L1733.21,397.52 L1734.85,395.18 L1736.49,418.63 L1738.84,422.15 L1740.24,449.12 L1741.89,463.19 L1743.53,438.56 L1744.93,426.84 L1746.58,435.05 L1748.92,430.36 L1751.27,411.59 L1753.61,402.21 L1755.25,423.32 L1756.66,439.74 L1759.01,430.36 L1760.65,424.49 L1762.99,430.36 L1766.04,437.39 L1768.39,416.29 L1770.73,409.25 L1772.37,410.42 L1774.72,451.46 L1776.36,439.74 L1778.71,429.18 L1780.58,404.56 L1782.46,405.73 L1784.1,415.11 L1786.44,411.59 L1788.09,417.46 L1789.96,439.74 L1792.31,435.05 L1795.12,417.46 L1797,429.18 L1798.87,439.74 L1801.22,432.7 L1802.86,437.39 L1805.21,419.8 L1807.55,418.16" fill="none" stroke="#f2cc0c" stroke-width="1.1" stroke-linejoin="round"/>
<path d="M1816,300 h3 v-3 h2 v5 h-5 z" fill="#6f6f72"/>
</svg>
<div class="xt" style="left:56px">10:45</div><div class="xt" style="left:126px">11:00</div><div class="xt" style="left:196px">11:15</div><div class="xt" style="left:266px">11:30</div><div class="xt" style="left:336px">11:45</div><div class="xt" style="left:406px">12:00</div><div class="xt" style="left:476px">12:15</div><div class="xt" style="left:546px">12:30</div><div class="xt" style="left:615px">12:45</div><div class="xt" style="left:685px">13:00</div><div class="xt" style="left:755px">13:15</div><div class="xt" style="left:825px">13:30</div><div class="xt" style="left:967px">10:45</div><div class="xt" style="left:1037px">11:00</div><div class="xt" style="left:1107px">11:15</div><div class="xt" style="left:1177px">11:30</div><div class="xt" style="left:1247px">11:45</div><div class="xt" style="left:1318px">12:00</div><div class="xt" style="left:1388px">12:15</div><div class="xt" style="left:1458px">12:30</div><div class="xt" style="left:1528px">12:45</div><div class="xt" style="left:1598px">13:00</div><div class="xt" style="left:1668px">13:15</div><div class="xt" style="left:1738px">13:30</div><div class="yt" style="left:0;width:45.9px;top:374px;letter-spacing:0.6px">4000</div><div class="yt" style="left:0;width:45.9px;top:422px;letter-spacing:0.6px">2000</div><div class="yt" style="left:0;width:45.3px;top:470px;letter-spacing:0px">0</div><div class="yt" style="left:900px;width:55.75px;top:380px;letter-spacing:0.15px">1000</div><div class="yt" style="left:900px;width:56.1px;top:425px;letter-spacing:0.5px">500</div><div class="yt" style="left:900px;width:55.6px;top:470px;letter-spacing:0px">0</div>
<div class="lm" style="left:19px;background:#73bf69"></div><div class="lt" style="left:41.3px">nwaku-postgres:8003</div><div class="lm" style="left:179px;background:#f2cc0c"></div><div class="lt" style="left:201.4px">nwaku-sqlite:8004</div>
<div class="lm" style="left:932px;background:#73bf69"></div><div class="lt" style="left:954.3px">nwaku-postgres:8003</div><div class="lm" style="left:1092px;background:#f2cc0c"></div><div class="lt" style="left:1114.4px">nwaku-sqlite:8004</div>
</body></html>
